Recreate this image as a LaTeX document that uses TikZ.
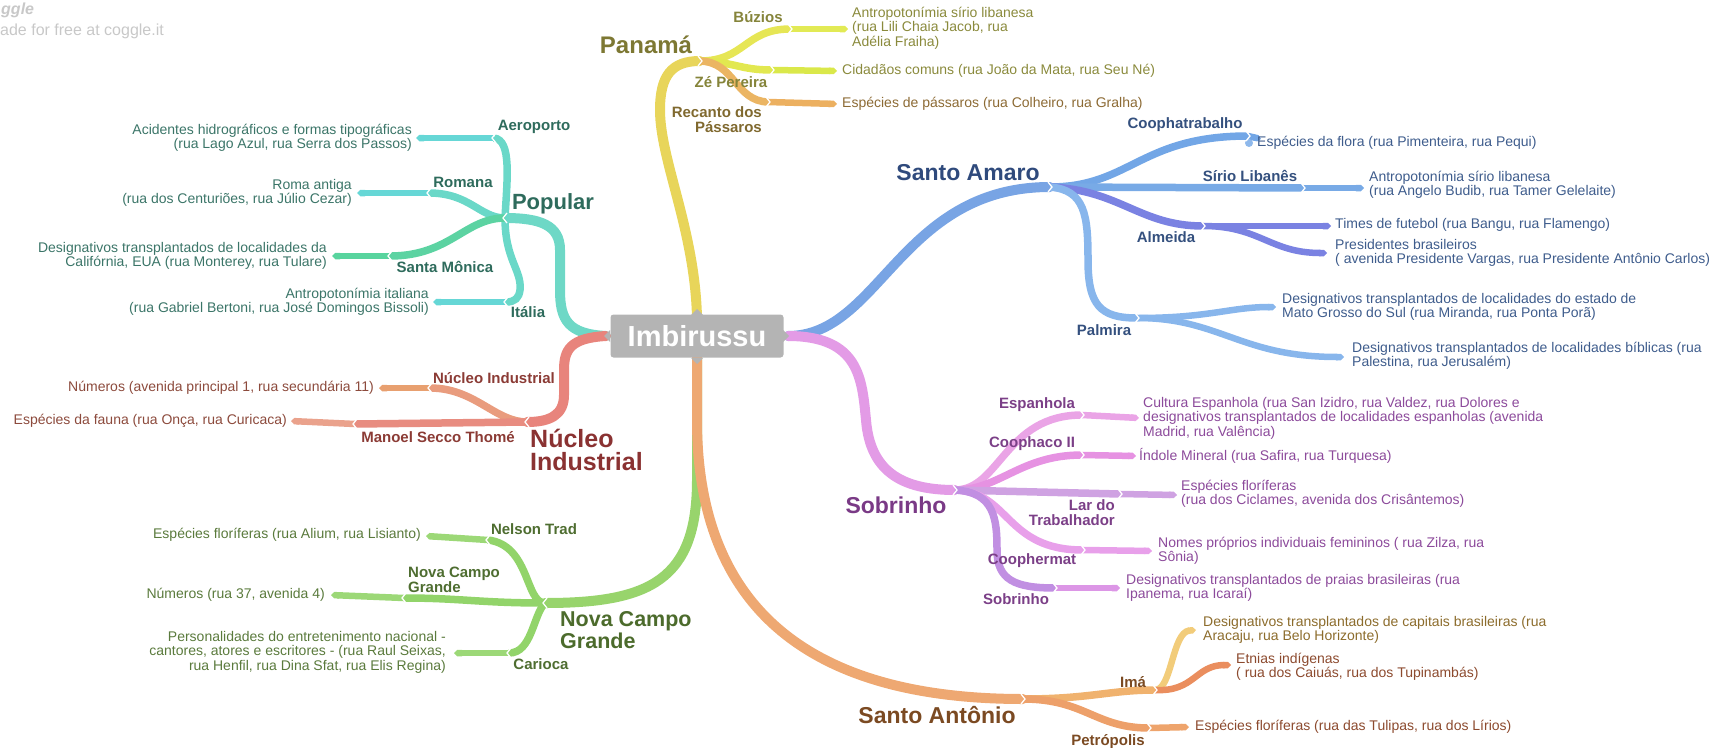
\documentclass[tikz,border=0pt]{standalone}
\usepackage{fontspec}
\setmainfont{Liberation Sans}
\usetikzlibrary{arrows.meta,calc}

% hub
\definecolor{hubgray}{HTML}{B4B4B4}
% Panamá
\definecolor{cPan}{HTML}{E8D55A}
\definecolor{cBuz}{HTML}{E6E655}
\definecolor{cBuzL}{HTML}{E2EA55}
\definecolor{cZe}{HTML}{E2E850}
\definecolor{cZeL}{HTML}{DAE84A}
\definecolor{cRec}{HTML}{EBB563}
\definecolor{cRecL}{HTML}{ECB060}
\definecolor{tPan}{HTML}{7D7833}
\definecolor{tPanS}{HTML}{85843A}
\definecolor{tPanL}{HTML}{8A8A3C}
\definecolor{tRec}{HTML}{80692F}
\definecolor{tRecL}{HTML}{8C6A34}
% Popular
\definecolor{cPop}{HTML}{6ED8C6}
\definecolor{cPopT}{HTML}{6AD8C8}
\definecolor{cPopL}{HTML}{66D7D6}
\definecolor{cSM}{HTML}{5CD3A2}
\definecolor{cSML}{HTML}{58D49E}
\definecolor{tPop}{HTML}{2E6B5C}
\definecolor{tPopL}{HTML}{3B7568}
% Núcleo Industrial
\definecolor{cNuc}{HTML}{E8847C}
\definecolor{cNucS}{HTML}{E99C7E}
\definecolor{cNucSL}{HTML}{E8A070}
\definecolor{cMan}{HTML}{E88C80}
\definecolor{cManL}{HTML}{EAA28C}
\definecolor{tNuc}{HTML}{8A3232}
\definecolor{tNucS}{HTML}{8B3B35}
\definecolor{tNucL}{HTML}{8C4A3C}
% Nova Campo Grande
\definecolor{cNcg}{HTML}{98D46C}
\definecolor{cNcgT}{HTML}{92D46A}
\definecolor{cNcgL}{HTML}{9CD877}
\definecolor{tNcg}{HTML}{4C6B2C}
\definecolor{tNcgS}{HTML}{4E6D30}
\definecolor{tNcgL}{HTML}{5A7A3C}
% Santo Antônio
\definecolor{cSan}{HTML}{EEA872}
\definecolor{cIma}{HTML}{F0B26E}
\definecolor{cCap}{HTML}{F2CC7A}
\definecolor{cEtn}{HTML}{EA8E5E}
\definecolor{cPet}{HTML}{EDA06A}
\definecolor{cPetL}{HTML}{EEA46C}
\definecolor{tSan}{HTML}{7B4A22}
\definecolor{tCap}{HTML}{8C6C2C}
\definecolor{tEtn}{HTML}{8C4A2E}
% Santo Amaro
\definecolor{cSam}{HTML}{78A4E4}
\definecolor{cCop}{HTML}{72A6E6}
\definecolor{cSir}{HTML}{78AAE6}
\definecolor{cAlm}{HTML}{7A82E2}
\definecolor{cPal}{HTML}{88B6EC}
\definecolor{tSam}{HTML}{2F4A7C}
\definecolor{tSamS}{HTML}{34507E}
\definecolor{tSamL}{HTML}{3E5C8C}
% Sobrinho
\definecolor{cSob}{HTML}{E39BE6}
\definecolor{cEsp}{HTML}{EAA4E6}
\definecolor{cCpc}{HTML}{E692E2}
\definecolor{cLar}{HTML}{CFA2E2}
\definecolor{cCph}{HTML}{E8A0EA}
\definecolor{cSbs}{HTML}{C18FE2}
\definecolor{cSbsL}{HTML}{DC96E6}
\definecolor{tSob}{HTML}{7A3A86}
\definecolor{tSobS}{HTML}{7B3F87}
\definecolor{tSobL}{HTML}{8C4A9B}
% watermark
\definecolor{wm}{HTML}{C8C8C8}

\tikzset{
  trunk/.style={line width=10pt, line cap=round},
  twig/.style={line width=7.5pt, line cap=butt},
  leafline/.style={line width=6.5pt, line cap=butt, -{Triangle Cap[]}},
  notch/.style={draw=white, line width=1.3pt},
  hub/.style={fill=hubgray, text=white, rounded corners=3pt, minimum width=173pt,
    minimum height=43pt, inner sep=0pt, font=\bfseries\fontsize{29}{30}\selectfont},
  mainlbl/.style={font=\bfseries\fontsize{23}{22}\selectfont, inner sep=0pt, align=left},
  sublbl/.style={font=\bfseries\fontsize{15}{14.5}\selectfont, inner sep=0pt},
  note/.style={font=\fontsize{14}{14.5}\selectfont, inner sep=0pt},
}

% white chevrons at the joints of branch segments
\newcommand\chevR[1]{\draw[notch] ($(#1)+(-2,-5)$) -- ($(#1)+(2,0)$) -- ($(#1)+(-2,5)$);}
\newcommand\chevL[1]{\draw[notch] ($(#1)+(2,-5)$) -- ($(#1)+(-2,0)$) -- ($(#1)+(2,5)$);}

\begin{document}
\begin{tikzpicture}[x=1pt,y=-1pt]
\useasboundingbox (0,0) rectangle (1720,747);

% ---------- named points ----------
\coordinate (hubT) at (697,318);
\coordinate (hubB) at (697,356);
\coordinate (hubL) at (606,336);
\coordinate (hubR) at (788,336);
% Panamá
\coordinate (panJ) at (700,61);
\coordinate (buzE) at (790,29);   \coordinate (buzT) at (848,29);
\coordinate (zeE)  at (772,70);   \coordinate (zeT)  at (837,71);
\coordinate (recE) at (768,102);  \coordinate (recT) at (837,104);
% Popular
\coordinate (popJ) at (505,218);
\coordinate (aerE) at (494,138);  \coordinate (aerT) at (416,138);
\coordinate (romE) at (429,193);  \coordinate (romT) at (357,193);
\coordinate (smE)  at (390,256);  \coordinate (smT)  at (332,256);
\coordinate (itaE) at (506,302);  \coordinate (itaT) at (433,302);
% Núcleo Industrial
\coordinate (nucJ) at (527,422);
\coordinate (nisE) at (430,388);  \coordinate (nisT) at (379,388);
\coordinate (msE)  at (355,424);  \coordinate (msT)  at (291,421);
% Nova Campo Grande
\coordinate (ncgJ) at (545,603);
\coordinate (ntE)  at (488,540);  \coordinate (ntT)  at (426,536);
\coordinate (ngE)  at (404,598);  \coordinate (ngT)  at (331,595);
\coordinate (carE) at (509,653);  \coordinate (carT) at (454,653);
% Santo Antônio
\coordinate (santJ) at (1023,699);
\coordinate (imaE) at (1155,690);
\coordinate (capT) at (1196,630);
\coordinate (etnT) at (1231,665);
\coordinate (petE) at (1149,728); \coordinate (petT) at (1189,727);
% Santo Amaro
\coordinate (samJ) at (1050,187);
\coordinate (copE) at (1248,136); \coordinate (copT) at (1261,139);
\coordinate (sirE) at (1303,188); \coordinate (sirT) at (1364,188);
\coordinate (almE) at (1203,226); \coordinate (almT) at (1331,226);
\coordinate (preT) at (1327,253);
\coordinate (palE) at (1137,318);
\coordinate (msulT) at (1276,307);
\coordinate (bibT) at (1344,357);
% Sobrinho
\coordinate (sobJ) at (955,490);
\coordinate (espE) at (1082,415); \coordinate (espT) at (1139,418);
\coordinate (cpcE) at (1082,455); \coordinate (cpcT) at (1136,456);
\coordinate (larE) at (1120,494); \coordinate (larT) at (1177,495);
\coordinate (cphE) at (1083,550); \coordinate (cphT) at (1152,551);
\coordinate (sbsE) at (1055,588); \coordinate (sbsT) at (1120,588);

% ---------- main branches ----------
\draw[trunk,cPan] (hubT) .. controls (695,230) and (660,160) .. (660,110)
  .. controls (660,75) and (672,61) .. (panJ);
\draw[trunk,cPop] (hubL) .. controls (568,334) and (560,320) .. (560,290) -- (560,250)
  .. controls (560,225) and (540,218) .. (popJ);
\draw[trunk,cNuc] (hubL) .. controls (570,338) and (564,350) .. (564,370) -- (564,395)
  .. controls (564,415) and (550,422) .. (nucJ);
\draw[trunk,cNcg] (hubB) -- (697,480) .. controls (697,580) and (650,603) .. (ncgJ);
\draw[trunk,cSan] (hubB) -- (697,420) .. controls (697,600) and (800,699) .. (santJ);
\draw[trunk,cSam] (hubR) .. controls (880,336) and (900,187) .. (samJ);
\draw[trunk,cSob] (hubR) .. controls (860,336) and (862,380) .. (866,420)
  .. controls (870,470) and (900,490) .. (sobJ);

% ---------- Panamá ----------
\draw[twig,cBuz] (panJ) .. controls (745,61) and (745,29) .. (buzE);
\draw[twig,cZe] (panJ) .. controls (735,62) and (740,70) .. (zeE);
\draw[twig,cRec] (panJ) .. controls (735,62) and (735,101) .. (recE);
\draw[leafline,cBuzL] (buzE) -- (buzT);
\draw[leafline,cZeL] (zeE) -- (zeT);
\draw[leafline,cRecL] (recE) -- (recT);
\chevR{panJ}\chevR{buzE}\chevR{zeE}\chevR{recE}

% ---------- Popular ----------
\draw[twig,cPopT] (popJ) .. controls (507,180) and (512,140) .. (aerE);
\draw[twig,cPopT] (popJ) .. controls (505,260) and (522,270) .. (520,290)
  .. controls (519,298) and (515,302) .. (itaE);
\draw[twig,cPopT] (popJ) .. controls (480,218) and (470,193) .. (romE);
\draw[twig,cSM] (popJ) .. controls (465,218) and (450,256) .. (smE);
\draw[leafline,cPopL] (aerE) -- (aerT);
\draw[leafline,cPopL] (romE) -- (romT);
\draw[leafline,cSML] (smE) -- (smT);
\draw[leafline,cPopL] (itaE) -- (itaT);
\chevL{popJ}\chevL{aerE}\chevL{romE}\chevL{smE}\chevL{itaE}

% ---------- Núcleo Industrial ----------
\draw[twig,cNucS] (nucJ) .. controls (495,422) and (475,388) .. (nisE);
\draw[twig,cMan] (nucJ) -- (msE);
\draw[leafline,cNucSL] (nisE) -- (nisT);
\draw[leafline,cManL] (msE) -- (msT);
\chevL{nucJ}\chevL{nisE}\chevL{msE}

% ---------- Nova Campo Grande ----------
\draw[twig,cNcgT] (ncgJ) .. controls (525,603) and (530,545) .. (ntE);
\draw[twig,cNcgT] (ncgJ) .. controls (480,603) and (460,598) .. (ngE);
\draw[twig,cNcgT] (ncgJ) .. controls (533,615) and (532,653) .. (carE);
\draw[leafline,cNcgL] (ntE) -- (ntT);
\draw[leafline,cNcgL] (ngE) -- (ngT);
\draw[leafline,cNcgL] (carE) -- (carT);
\chevL{ncgJ}\chevL{ntE}\chevL{ngE}\chevL{carE}

% ---------- Santo Antônio ----------
\draw[twig,cIma] (santJ) .. controls (1090,699) and (1110,690) .. (imaE);
\draw[twig,cPet] (santJ) .. controls (1085,699) and (1095,728) .. (petE);
\draw[leafline,cCap] (imaE) .. controls (1172,690) and (1172,632) .. (capT);
\draw[leafline,cEtn] (imaE) .. controls (1195,692) and (1195,665) .. (etnT);
\draw[leafline,cPetL] (petE) -- (petT);
\chevR{santJ}\chevR{imaE}\chevR{petE}

% ---------- Santo Amaro ----------
\draw[twig,cCop] (samJ) .. controls (1130,187) and (1140,136) .. (copE);
\draw[twig,cSir] (samJ) -- (sirE);
\draw[twig,cAlm] (samJ) .. controls (1120,190) and (1140,226) .. (almE);
\draw[twig,cPal] (samJ) .. controls (1085,190) and (1088,215) .. (1088,260)
  .. controls (1088,305) and (1100,318) .. (palE);
\draw[leafline,cCop] (copE) -- (copT);
\fill[cCop!80!white] (1249,143) circle (4);
\draw[leafline,cSir] (sirE) -- (sirT);
\draw[leafline,cAlm] (almE) -- (almT);
\draw[leafline,cAlm] (almE) .. controls (1260,226) and (1270,253) .. (preT);
\draw[leafline,cPal] (palE) .. controls (1210,318) and (1230,307) .. (msulT);
\draw[leafline,cPal] (palE) .. controls (1220,318) and (1240,357) .. (bibT);
\chevR{samJ}\chevR{copE}\chevR{sirE}\chevR{almE}\chevR{palE}

% ---------- Sobrinho ----------
\draw[twig,cEsp] (sobJ) .. controls (1000,490) and (1005,415) .. (espE);
\draw[twig,cCpc] (sobJ) .. controls (1000,490) and (1020,455) .. (cpcE);
\draw[twig,cLar] (sobJ) -- (larE);
\draw[twig,cCph] (sobJ) .. controls (1010,492) and (1005,550) .. (cphE);
\draw[twig,cSbs] (sobJ) .. controls (995,492) and (997,520) .. (997,550)
  .. controls (997,580) and (1015,588) .. (sbsE);
\draw[leafline,cEsp] (espE) -- (espT);
\draw[leafline,cCpc] (cpcE) -- (cpcT);
\draw[leafline,cLar] (larE) -- (larT);
\draw[leafline,cCph] (cphE) -- (cphT);
\draw[leafline,cSbsL] (sbsE) -- (sbsT);
\chevR{sobJ}\chevR{espE}\chevR{cpcE}\chevR{larE}\chevR{cphE}\chevR{sbsE}

% ---------- hub ----------
\fill[hubgray] ($(hubL)+(4,-6)$) -- ($(hubL)+(-2,0)$) -- ($(hubL)+(4,6)$) -- cycle;
\fill[hubgray] ($(hubR)+(-5,-6)$) -- ($(hubR)+(1,0)$) -- ($(hubR)+(-5,6)$) -- cycle;
\fill[hubgray] ($(hubT)+(-6,-3)$) -- ($(hubT)+(0,-9)$) -- ($(hubT)+(6,-3)$) -- cycle;
\fill[hubgray] ($(hubB)+(-6,2)$) -- ($(hubB)+(0,8)$) -- ($(hubB)+(6,2)$) -- cycle;
\node[hub] (imb) at (697,336) {Imbirussu};

% ---------- main labels ----------
\node[mainlbl,text=tPan,font=\bfseries\fontsize{24}{22}\selectfont] (panL) at (646,45) {Panamá};
\node[mainlbl,text=tPop,font=\bfseries\fontsize{22}{22}\selectfont] (popL) at (553,204) {Popular};
\node[mainlbl,text=tNuc,anchor=west,font=\bfseries\fontsize{25}{23}\selectfont] (nucL) at (530,450) {Núcleo\\Industrial};
\node[mainlbl,text=tNcg,anchor=west,font=\bfseries\fontsize{21.5}{21.5}\selectfont] (ncgL) at (560,630) {Nova Campo\\Grande};
\node[mainlbl,text=tSan] (sanL) at (937,715) {Santo Antônio};
\node[mainlbl,text=tSam] (samL) at (968,173) {Santo Amaro};
\node[mainlbl,text=tSob] (sobL) at (896,505) {Sobrinho};

% ---------- sub labels ----------
\node[sublbl,text=tPanS] (buzL) at (758,17) {Búzios};
\node[sublbl,text=tPanS] (zeL) at (731,82) {Zé Pereira};
\node[sublbl,text=tRec,anchor=east,align=right] (recL) at (762,119.5) {Recanto dos\\Pássaros};
\node[sublbl,text=tPop] (aerL) at (534,127) {Aeroporto};
\node[sublbl,text=tPop] (romL) at (463,182) {Romana};
\node[sublbl,text=tPop] (smL) at (445,267) {Santa Mônica};
\node[sublbl,text=tPop] (itaL) at (528,312) {Itália};
\node[sublbl,text=tNucS] (nisL) at (494,378) {Núcleo Industrial};
\node[sublbl,text=tNucS] (msL) at (438,437) {Manoel Secco Thomé};
\node[sublbl,text=tNcgS] (ntL) at (534,529) {Nelson Trad};
\node[sublbl,text=tNcgS,anchor=west,align=left] (ngL) at (408,580) {Nova Campo\\Grande};
\node[sublbl,text=tNcgS] (carL) at (541,664) {Carioca};
\node[sublbl,text=tSan] (imaL) at (1133,682) {Imá};
\node[sublbl,text=tSan] (petL) at (1108,742) {Petrópolis};
\node[sublbl,text=tSamS] (copL) at (1185,125) {Coophatrabalho};
\node[sublbl,text=tSamS] (sirL) at (1250,176) {Sírio Libanês};
\node[sublbl,text=tSamS] (almL) at (1166,237) {Almeida};
\node[sublbl,text=tSamS] (palL) at (1104,330) {Palmira};
\node[sublbl,text=tSobS] (espL) at (1037,405) {Espanhola};
\node[sublbl,text=tSobS] (cpcL) at (1032,444) {Coophaco II};
\node[sublbl,text=tSobS,anchor=east,align=right] (larL) at (1115,512.5) {Lar do\\Trabalhador};
\node[sublbl,text=tSobS] (cphL) at (1032,561) {Coophermat};
\node[sublbl,text=tSobS] (sbsL) at (1016,599) {Sobrinho};

% ---------- leaf texts ----------
\node[note,text=tPanL,anchor=west,align=left] (buzN) at ($(buzT)+(4,-1)$) {Antropotonímia sírio libanesa\\(rua Lili Chaia Jacob, rua\\Adélia Fraiha)};
\node[note,text=tPanL,anchor=west] (zeN) at ($(zeT)+(5,0)$) {Cidadãos comuns (rua João da Mata, rua Seu Né)};
\node[note,text=tRecL,anchor=west] (recN) at ($(recT)+(5,0)$) {Espécies de pássaros (rua Colheiro, rua Gralha)};

\node[note,text=tPopL,anchor=east,align=right] (aerN) at ($(aerT)+(-4,0)$) {Acidentes hidrográficos e formas tipográficas\\(rua Lago Azul, rua Serra dos Passos)};
\node[note,text=tPopL,anchor=east,align=right] (romN) at ($(romT)+(-5,0)$) {Roma antiga\\(rua dos Centuriões, rua Júlio Cezar)};
\node[note,text=tPopL,anchor=east,align=right] (smN) at ($(smT)+(-5,0)$) {Designativos transplantados de localidades da\\Califórnia, EUA (rua Monterey, rua Tulare)};
\node[note,text=tPopL,anchor=east,align=right] (itaN) at ($(itaT)+(-4,0)$) {Antropotonímia italiana\\(rua Gabriel Bertoni, rua José Domingos Bissoli)};

\node[note,text=tNucL,anchor=east] (nisN) at ($(nisT)+(-5,0)$) {Números (avenida principal 1, rua secundária 11)};
\node[note,text=tNucL,anchor=east] (msN) at ($(msT)+(-4,0)$) {Espécies da fauna (rua Onça, rua Curicaca)};

\node[note,text=tNcgL,anchor=east] (ntN) at ($(ntT)+(-5,-1)$) {Espécies floríferas (rua Alium, rua Lisianto)};
\node[note,text=tNcgL,anchor=east] (ngN) at ($(ngT)+(-6,0)$) {Números (rua 37, avenida 4)};
\node[note,text=tNcgL,anchor=east,align=right] (carN) at ($(carT)+(-8,-1)$) {Personalidades do entretenimento nacional -\\cantores, atores e escritores - (rua Raul Seixas,\\rua Henfil, rua Dina Sfat, rua Elis Regina)};

\node[note,text=tCap,anchor=west,align=left] (capN) at ($(capT)+(7,0)$) {Designativos transplantados de capitais brasileiras (rua\\Aracaju, rua Belo Horizonte)};
\node[note,text=tEtn,anchor=west,align=left] (etnN) at ($(etnT)+(5,2)$) {Etnias indígenas\\( rua dos Caiuás, rua dos Tupinambás)};
\node[note,text=tEtn,anchor=west] (petN) at ($(petT)+(6,0)$) {Espécies floríferas (rua das Tulipas, rua dos Lírios)};

\node[note,text=tSamL,anchor=west] (copN) at (1257,143) {Espécies da flora (rua Pimenteira, rua Pequi)};
\node[note,text=tSamL,anchor=west,align=left] (sirN) at ($(sirT)+(5,-3)$) {Antropotonímia sírio libanesa\\(rua Angelo Budib, rua Tamer Gelelaite)};
\node[note,text=tSamL,anchor=west] (almN) at ($(almT)+(4,-1)$) {Times de futebol (rua Bangu, rua Flamengo)};
\node[note,text=tSamL,anchor=west,align=left] (preN) at ($(preT)+(8,0)$) {Presidentes brasileiros\\( avenida Presidente Vargas, rua Presidente Antônio Carlos)};
\node[note,text=tSamL,anchor=west,align=left] (msulN) at ($(msulT)+(6,0)$) {Designativos transplantados de localidades do estado de\\Mato Grosso do Sul (rua Miranda, rua Ponta Porã)};
\node[note,text=tSamL,anchor=west,align=left] (bibN) at ($(bibT)+(8,-1)$) {Designativos transplantados de localidades bíblicas (rua\\Palestina, rua Jerusalém)};

\node[note,text=tSobL,anchor=west,align=left] (espN) at ($(espT)+(4,0)$) {Cultura Espanhola (rua San Izidro, rua Valdez, rua Dolores e\\designativos transplantados de localidades espanholas (avenida\\Madrid, rua Valência)};
\node[note,text=tSobL,anchor=west] (cpcN) at ($(cpcT)+(3,0)$) {Índole Mineral (rua Safira, rua Turquesa)};
\node[note,text=tSobL,anchor=west,align=left] (larN) at ($(larT)+(4,-1)$) {Espécies floríferas\\(rua dos Ciclames, avenida dos Crisântemos)};
\node[note,text=tSobL,anchor=west,align=left] (cphN) at ($(cphT)+(6,0)$) {Nomes próprios individuais femininos ( rua Zilza, rua\\Sônia)};
\node[note,text=tSobL,anchor=west,align=left] (sbsN) at ($(sbsT)+(6,0)$) {Designativos transplantados de praias brasileiras (rua\\Ipanema, rua Icaraí)};

% ---------- watermark ----------
\node[anchor=base west,inner sep=0pt,text=wm,font=\bfseries\itshape\fontsize{16}{16}\selectfont] (wmLogo) at (1,14) {ggle};
\node[anchor=west,inner sep=0pt,text=wm,font=\fontsize{16}{16}\selectfont] (wmText) at (0,31) {ade for free at coggle.it};
\end{tikzpicture}
\end{document}
